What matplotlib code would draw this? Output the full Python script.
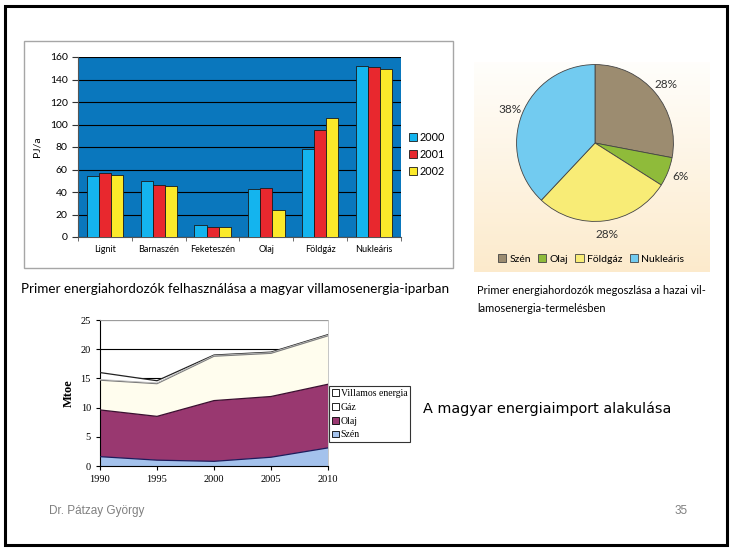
import numpy as np
import matplotlib.pyplot as plt
from matplotlib.patches import Rectangle, Patch

# bar chart data (PJ/a)
categories = ["Lignit", "Barnaszén", "Feketeszén", "Olaj", "Földgáz", "Nukleáris"]
bar_years = ["2000", "2001", "2002"]
v2000 = [54, 50, 11, 43, 78, 152]
v2001 = [57, 46, 9, 44, 95, 151]
v2002 = [55, 45, 9, 24, 106, 149]

# pie chart data (%)
pie_labels = ["Szén", "Olaj", "Földgáz", "Nukleáris"]
pie_values = [28, 6, 28, 38]

# energy import (Mtoe)
years = [1990, 1995, 2000, 2005, 2010]
szen = [1.6, 1.0, 0.8, 1.5, 3.1]
olaj = [8.0, 7.5, 10.4, 10.4, 10.9]
gaz = [5.1, 5.6, 7.6, 7.4, 8.3]
villamos = [1.3, 0.5, 0.2, 0.2, 0.2]

W, H = 731, 549


def rect(x0, y0, x1, y1):
    # pixel box (top-left origin) -> figure fraction rect
    return [x0 / W, 1 - y1 / H, (x1 - x0) / W, (y1 - y0) / H]


fig = plt.figure(figsize=(W / 100, H / 100), dpi=100)
fig.patch.set_facecolor("white")

# slide frame
fig.patches.append(Rectangle((5 / W, 1 - 545 / H), 722 / W, 539 / H, transform=fig.transFigure,
                             fill=False, edgecolor="black", linewidth=2.2))

# ---- bar chart ----
fig.patches.append(Rectangle((24 / W, 1 - 268 / H), 429 / W, 227 / H, transform=fig.transFigure,
                             fill=False, edgecolor="#a6a6a6", linewidth=1.0))
ax1 = fig.add_axes(rect(78, 57, 401, 237))
ax1.set_facecolor("#0a77bd")
x = np.arange(len(categories))
bw = 0.225
cols = ["#14b4ee", "#e8282e", "#fbe92a"]
for i, (vals, c) in enumerate(zip([v2000, v2001, v2002], cols)):
    ax1.bar(x + (i - 1) * bw, vals, bw, color=c, edgecolor="#1a1a1a", linewidth=0.6,
            label=bar_years[i], zorder=3)
ax1.set_ylim(0, 160)
ax1.set_xlim(-0.5, len(categories) - 0.5)
ax1.set_yticks(range(0, 161, 20))
ax1.yaxis.grid(True, color="black", linewidth=0.8, zorder=1)
ax1.set_axisbelow(True)
ax1.set_xticks(x)
ax1.set_xticklabels(categories, fontsize=6.5, family="Lato")
ax1.set_xticks(np.arange(-0.5, len(categories), 1), minor=True)
ax1.tick_params(axis="x", which="major", length=0, pad=6)
ax1.tick_params(axis="x", which="minor", length=3, color="#555555")
ax1.tick_params(axis="y", labelsize=7.5, length=4, color="#333333")
for t in ax1.get_yticklabels():
    t.set_family("Lato")
ax1.set_ylabel("PJ/a", fontsize=7.5, family="Lato", labelpad=6)
for s in ["top", "right"]:
    ax1.spines[s].set_visible(False)
ax1.spines["left"].set_color("#555555")
ax1.spines["bottom"].set_color("#555555")
ax1.legend(loc="center left", bbox_to_anchor=(1.0, 0.46), frameon=False,
           handlelength=0.8, handleheight=0.8, handletextpad=0.25, labelspacing=0.55,
           borderaxespad=0.3, prop={"family": "Lato", "size": 7.8})

# ---- pie chart ----
bg = fig.add_axes(rect(474, 62, 710, 272))
grad = np.linspace(0, 1, 100).reshape(-1, 1)
top = np.array([1.0, 0.996, 0.985])
bot = np.array([0.99, 0.92, 0.80])
img = top + (bot - top) * grad[:, :, None]
bg.imshow(img, aspect="auto", extent=[0, 1, 0, 1])
bg.axis("off")

ax2 = fig.add_axes(rect(515, 63, 675, 223))
pie_cols = ["#9c8c70", "#8fbb3a", "#f8ec76", "#72cbf0"]
wedges, _, autot = ax2.pie(pie_values, colors=pie_cols, startangle=90, counterclock=False,
                           autopct="%d%%", pctdistance=1.17,
                           wedgeprops={"edgecolor": "#444444", "linewidth": 0.6})
for t in autot:
    t.set_fontsize(8.5)
    t.set_family("Lato")
    t.set_color("#333333")
ax2.set_xlim(-1.02, 1.02)
ax2.set_ylim(-1.02, 1.02)
fig.legend(wedges, pie_labels, loc="center", bbox_to_anchor=(591 / W, 1 - 259 / H), ncol=4,
           frameon=False, handlelength=0.8, handleheight=0.8, handletextpad=0.3,
           columnspacing=0.7, prop={"family": "Lato", "size": 7.5})

# captions
fig.text(21 / W, 1 - 289 / H, "Primer energiahordozók felhasználása a magyar villamosenergia-iparban",
         fontsize=9.7, family="Lato", va="center", ha="left")
fig.text(477 / W, 1 - 290 / H, "Primer energiahordozók megoszlása a hazai vil-",
         fontsize=7.9, family="Lato", va="center", ha="left")
fig.text(477 / W, 1 - 309 / H, "lamosenergia-termelésben",
         fontsize=7.9, family="Lato", va="center", ha="left")

# ---- energy import area chart ----
ax3 = fig.add_axes(rect(100, 320, 328, 466))
layers = [szen, olaj, gaz, villamos]
area_cols = ["#a4c2ec", "#993870", "#fffdee", "#ffffff"]
edge_cols = ["#1c1c5c", "#3a1030", "#777777", "#222222"]
ax3.stackplot(years, layers, colors=area_cols, zorder=2)
cum = np.cumsum(np.array(layers), axis=0)
for row, ec in zip(cum, edge_cols):
    ax3.plot(years, row, color=ec, linewidth=0.9, zorder=3)
ax3.plot(years, cum[2] + 0.12, color="#bbbbbb", linewidth=0.6, zorder=3)
ax3.set_xlim(1990, 2010)
ax3.set_ylim(0, 25)
ax3.set_xticks(years)
ax3.set_yticks(range(0, 26, 5))
ax3.yaxis.grid(True, color="black", linewidth=0.8, zorder=0)
ax3.set_axisbelow(True)
ax3.tick_params(labelsize=7.5, length=3, direction="out")
for t in ax3.get_xticklabels() + ax3.get_yticklabels():
    t.set_family("Liberation Serif")
ax3.set_ylabel("Mtoe", fontsize=9, family="Liberation Serif", fontweight="bold", labelpad=4)
for s in ["top", "right"]:
    ax3.spines[s].set_color("#bbbbbb")
    ax3.spines[s].set_linewidth(0.6)

handles = [Patch(facecolor=c, edgecolor="black", linewidth=0.6) for c in
           ["#ffffff", "#ffffff", "#993870", "#a4c2ec"]]
names = ["Villamos energia", "Gáz", "Olaj", "Szén"]
leg = fig.legend(handles, names, loc="upper left", bbox_to_anchor=(329 / W, 1 - 386 / H),
                 borderaxespad=0, frameon=True, fancybox=False, edgecolor="black",
                 borderpad=0.3, handlelength=0.7, handleheight=0.7, handletextpad=0.2,
                 labelspacing=0.5, prop={"family": "Liberation Serif", "size": 7})
leg.get_frame().set_linewidth(0.8)

fig.text(423 / W, 1 - 409 / H, "A magyar energiaimport alakulása", fontsize=10.4,
         family="DejaVu Sans", va="center", ha="left")

# footer
fig.text(49 / W, 1 - 511 / H, "Dr. Pátzay György", fontsize=8.5, color="#808080",
         family="Liberation Sans", va="center")
fig.text(688 / W, 1 - 511 / H, "35", fontsize=8.5, color="#808080",
         family="Liberation Sans", va="center", ha="right")

fig.savefig("out.png", dpi=100)
